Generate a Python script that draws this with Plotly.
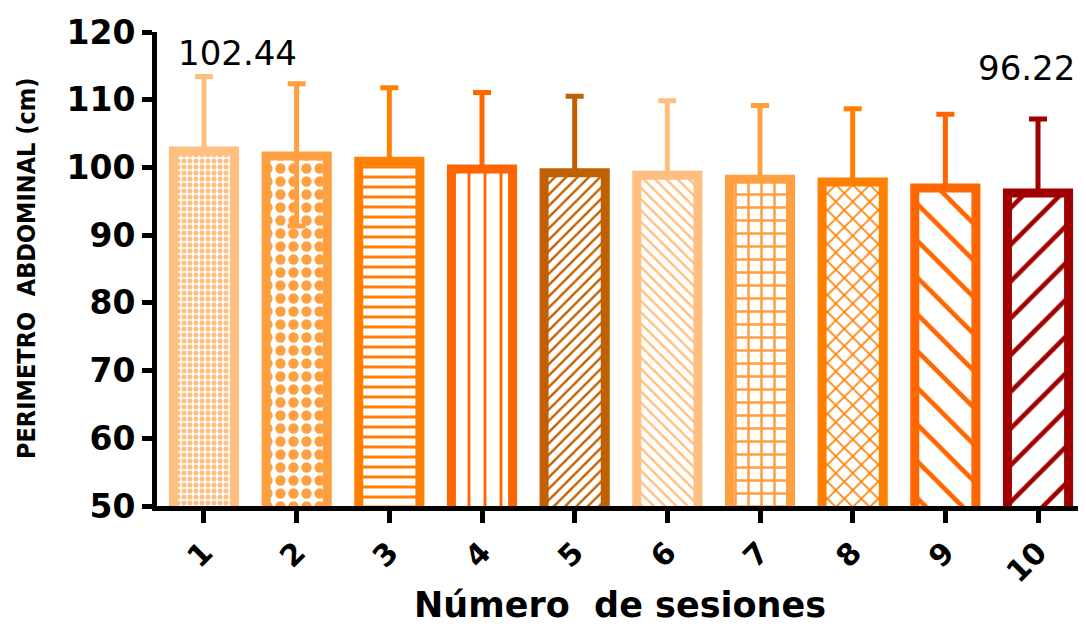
import plotly.graph_objects as go

sessions = [1, 2, 3, 4, 5, 6, 7, 8, 9, 10]
tick_labels = ["1", "2", "3", "4", "5", "6", "7", "8", "9", "10"]
means = [102.44, 101.7, 100.9, 99.75, 99.2, 98.85, 98.25, 97.85, 96.95, 96.22]
sd_up = [11.0, 10.65, 10.85, 11.3, 11.3, 11.0, 10.9, 10.8, 10.9, 10.95]
sd_down = [0, 10.35, 0, 0, 0, 0, 0, 0, 0, 0]
colors = ["#FFBF80", "#FFA040", "#FF8000", "#FF6600", "#C06000",
          "#FFBF80", "#FFA040", "#FF8000", "#FF6600", "#A00000"]
shapes = [".", ".", "-", "|", "/", "\\", "+", "x", "\\", "/"]
psizes = [6, 13, 10, 16, 8, 8, 13, 12, 26, 26]
psolid = [0.55, 0.5, 0.3, 0.18, 0.3, 0.3, 0.35, 0.25, 0.18, 0.18]

fig = go.Figure()
for i in range(len(sessions)):
    fig.add_trace(go.Bar(
        x=[sessions[i]], y=[means[i]], base=0,
        width=0.66,
        marker=dict(
            color=colors[i],
            line=dict(color=colors[i], width=9),
            pattern=dict(shape=shapes[i], fgcolor=colors[i], bgcolor="white",
                         size=psizes[i], solidity=psolid[i], fillmode="replace"),
        ),
        error_y=dict(type="data", symmetric=False, array=[sd_up[i]],
                     arrayminus=[sd_down[i]], color=colors[i],
                     thickness=5, width=9),
        showlegend=False,
    ))

fig.add_annotation(x=1.36, y=116.9, xref="x", yref="y", text="102.44",
                   xanchor="center", yanchor="middle",
                   showarrow=False, font=dict(family="DejaVu Sans", size=34, color="black"))
fig.add_annotation(x=9.88, y=114.7, xref="x", yref="y", text="96.22",
                   xanchor="center", yanchor="middle",
                   showarrow=False, font=dict(family="DejaVu Sans", size=34, color="black"))
fig.add_annotation(x=-0.142, y=0.502, xref="paper", yref="paper",
                   xanchor="center", yanchor="middle",
                   text="<b>PERIMETRO  ABDOMINAL (cm)</b>", textangle=-90, showarrow=False,
                   font=dict(family="Liberation Sans Narrow, DejaVu Sans Condensed", size=25, color="black"))
fig.add_annotation(x=0.502, y=-0.209, xref="paper", yref="paper",
                   xanchor="center", yanchor="middle",
                   text="<b>Número\u00a0 de sesiones</b>", showarrow=False,
                   font=dict(family="DejaVu Sans", size=35, color="black"))

fig.update_layout(
    width=1078, height=620,
    margin=dict(l=149, r=6, t=24, b=122, autoexpand=False),
    paper_bgcolor="white", plot_bgcolor="white",
    barmode="overlay",
    xaxis=dict(range=[0.493, 10.453], tickvals=sessions, ticktext=tick_labels,
               tickangle=-45, ticks="outside", ticklen=12, tickwidth=5, tickcolor="black",
               showline=True, linewidth=5, linecolor="black", showgrid=False, zeroline=False,
               automargin=False,
               tickfont=dict(family="DejaVu Sans", size=30, color="black", weight="bold")),
    yaxis=dict(range=[50, 120], tickvals=[50, 60, 70, 80, 90, 100, 110, 120],
               ticks="outside", ticklen=10, tickwidth=5, tickcolor="black",
               showline=True, linewidth=5, linecolor="black", showgrid=False, zeroline=False,
               automargin=False,
               tickfont=dict(family="DejaVu Sans", size=33, color="black", weight="bold")),
)

fig.write_html("out.html")
